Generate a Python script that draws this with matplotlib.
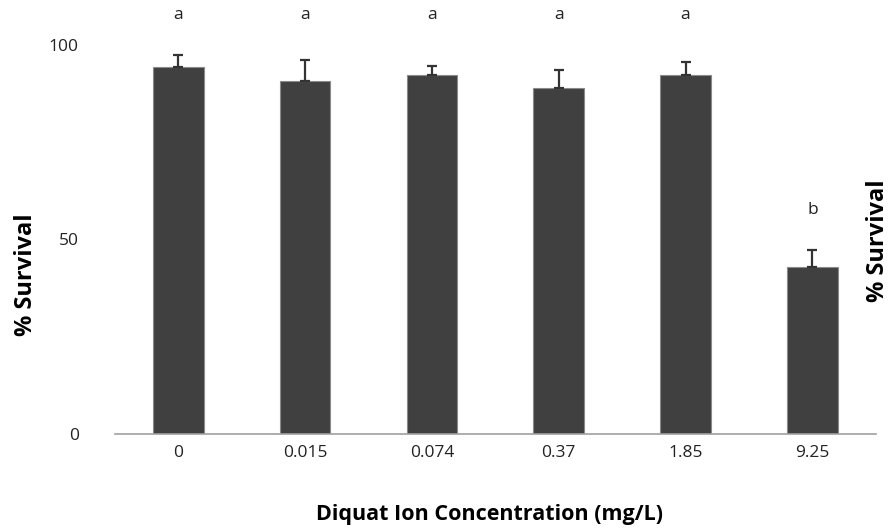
import matplotlib
matplotlib.use('Agg')
import matplotlib.pyplot as plt
import numpy as np

plt.rcParams['font.family'] = ['Open Sans', 'DejaVu Sans']

# data
concentrations = ['0', '0.015', '0.074', '0.37', '1.85', '9.25']
survival = [94.3, 90.7, 92.3, 89.0, 92.3, 42.9]
errors = [3.1, 5.4, 2.3, 4.6, 3.3, 4.4]
letters = ['a', 'a', 'a', 'a', 'a', 'b']
letter_y = [107.7, 107.7, 107.7, 107.7, 107.7, 57.6]

fig = plt.figure(figsize=(8.9, 5.31), dpi=100)
ax = fig.add_axes([0.129, 0.183, 0.855, 0.806])

x = np.arange(len(concentrations))
ax.bar(x, survival, width=0.4, color='#404040', edgecolor='#8a8a8a', linewidth=0.8, zorder=2)
ax.errorbar(x, survival, yerr=[np.zeros(len(errors)), errors], fmt='none',
            ecolor='#333333', elinewidth=1.6, capsize=3.5, capthick=1.6, zorder=3)

for xi, lab, ly in zip(x, letters, letter_y):
    ax.text(xi, ly, lab, ha='center', va='center', fontsize=12.5, color='#222222')

ax.set_xlim(-0.5, len(concentrations) - 0.5)
ax.set_ylim(0, 110)
ax.set_yticks([0, 50, 100])
ax.set_xticks(x)
ax.set_xticklabels(concentrations)
ax.tick_params(axis='both', length=0, labelsize=12.5, colors='#222222')
ax.tick_params(axis='y', pad=26)
ax.tick_params(axis='x', pad=8)

for s in ['top', 'right', 'left']:
    ax.spines[s].set_visible(False)
ax.spines['bottom'].set_color('#a0a0a0')
ax.spines['bottom'].set_linewidth(1.2)

fig.text(0.029, 0.482, '% Survival', rotation=90, ha='center', va='center',
         fontsize=17, fontweight='bold')
fig.text(0.986, 0.546, '% Survival', rotation=90, ha='center', va='center',
         fontsize=17, fontweight='bold')
fig.text(0.55, 0.032, 'Diquat Ion Concentration (mg/L)', ha='center', va='center',
         fontsize=15.5, fontweight='bold')

fig.savefig('out.png', dpi=100)
